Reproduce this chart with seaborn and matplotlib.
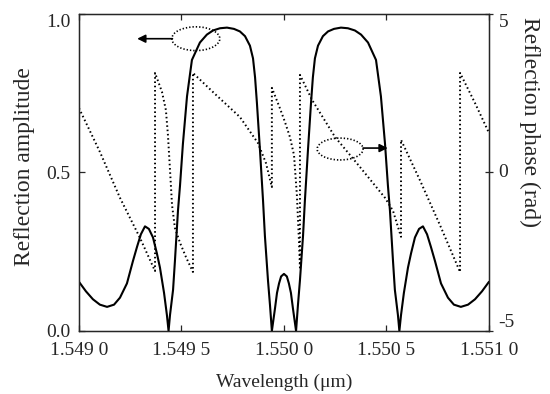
import matplotlib
matplotlib.use("Agg")
import matplotlib.pyplot as plt
from matplotlib.patches import Ellipse
import pandas as pd
import seaborn as sns

# wavelength (um) and reflection amplitude
amp_wl = [1.549000, 1.549034, 1.549068, 1.549102, 1.549137, 1.549171, 1.549200, 1.549234,
          1.549263, 1.549283, 1.549302, 1.549322, 1.549341, 1.549361, 1.549380, 1.549395,
          1.549415, 1.549429, 1.549437, 1.549444, 1.549459, 1.549468, 1.549483, 1.549493,
          1.549507, 1.549527, 1.549551, 1.549590, 1.549624, 1.549654, 1.549688, 1.549722,
          1.549756, 1.549785, 1.549810, 1.549834, 1.549849, 1.549859, 1.549868, 1.549883,
          1.549898, 1.549907, 1.549922, 1.549932, 1.549941, 1.549956, 1.549966, 1.549976,
          1.549986, 1.550000, 1.550014, 1.550024, 1.550034, 1.550044, 1.550059, 1.550068,
          1.550078, 1.550093, 1.550102, 1.550117, 1.550132, 1.550141, 1.550151, 1.550166,
          1.550190, 1.550215, 1.550244, 1.550278, 1.550312, 1.550346, 1.550376, 1.550410,
          1.550449, 1.550473, 1.550493, 1.550507, 1.550517, 1.550532, 1.550541, 1.550556,
          1.550563, 1.550571, 1.550585, 1.550605, 1.550620, 1.550639, 1.550659, 1.550678,
          1.550698, 1.550717, 1.550737, 1.550766, 1.550800, 1.550829, 1.550863, 1.550898,
          1.550932, 1.550966, 1.551000]
amplitude = [0.155, 0.125, 0.100, 0.083, 0.076, 0.083, 0.105, 0.150,
             0.220, 0.265, 0.305, 0.330, 0.322, 0.295, 0.245, 0.200,
             0.120, 0.050, 0.000, 0.050, 0.130, 0.220, 0.380, 0.460,
             0.590, 0.740, 0.855, 0.910, 0.935, 0.948, 0.955, 0.957,
             0.953, 0.945, 0.930, 0.900, 0.860, 0.800, 0.720, 0.570,
             0.410, 0.300, 0.160, 0.080, 0.000, 0.070, 0.120, 0.150,
             0.172, 0.180, 0.172, 0.150, 0.120, 0.070, 0.000, 0.080,
             0.160, 0.300, 0.410, 0.570, 0.720, 0.800, 0.860, 0.900,
             0.930, 0.945, 0.953, 0.957, 0.955, 0.948, 0.935, 0.910,
             0.855, 0.740, 0.590, 0.460, 0.380, 0.220, 0.130, 0.050,
             0.000, 0.050, 0.120, 0.200, 0.245, 0.295, 0.322, 0.330,
             0.305, 0.265, 0.220, 0.150, 0.105, 0.083, 0.076, 0.083,
             0.100, 0.125, 0.155]

# wavelength (um) and reflection phase (rad); repeated wavelengths are the phase jumps
phase_wl = [1.549000, 1.549102, 1.549200, 1.549298, 1.549371, 1.549371, 1.549405, 1.549424,
            1.549434, 1.549444, 1.549454, 1.549468, 1.549493, 1.549522, 1.549556, 1.549556,
            1.549663, 1.549785, 1.549873, 1.549912, 1.549941, 1.549941, 1.549980, 1.550005,
            1.550029, 1.550049, 1.550063, 1.550073, 1.550078, 1.550078, 1.550137, 1.550249,
            1.550371, 1.550493, 1.550532, 1.550571, 1.550571, 1.550663, 1.550761, 1.550859,
            1.550859, 1.550932, 1.551000]
phase = [2.03, 0.65, -0.80, -2.07, -3.11, 3.14, 2.54, 1.97,
         1.18, 0.08, -1.03, -1.75, -2.22, -2.67, -3.14, 3.14,
         2.48, 1.75, 0.93, 0.30, -0.46, 2.67, 2.03, 1.59,
         1.12, 0.55, -0.71, -2.13, -3.00, 3.08, 2.29, 1.12,
         0.17, -0.80, -1.21, -2.03, 1.03, -0.24, -1.66, -3.14,
         3.14, 2.19, 1.25]

x_ticks = [1.5490, 1.5495, 1.5500, 1.5505, 1.5510]
x_labels = ["1.549 0", "1.549 5", "1.550 0", "1.550 5", "1.551 0"]
amp_ticks = [0.0, 0.5, 1.0]
amp_labels = ["0.0", "0.5", "1.0"]
phase_ticks = [-5, 0, 5]
phase_labels = ["-5", "0", "5"]

amp_df = pd.DataFrame({"wl": amp_wl, "amp": amplitude})
phase_df = pd.DataFrame({"wl": phase_wl, "phase": phase})

sns.set_style("ticks")
plt.rcParams["font.family"] = ["Liberation Serif", "DejaVu Serif"]
plt.rcParams["axes.linewidth"] = 0.9

fig = plt.figure(figsize=(5.5, 3.94), dpi=100)
ax = fig.add_axes([0.1436, 0.160, 0.889 - 0.1436, 0.9645 - 0.160])
ax2 = ax.twinx()

sns.lineplot(data=amp_df, x="wl", y="amp", ax=ax, sort=False, estimator=None,
             color="black", linewidth=1.5)
sns.lineplot(data=phase_df, x="wl", y="phase", ax=ax2, sort=False, estimator=None,
             color="black", linewidth=1.4, linestyle=(0, (0.8, 1.4)))

ax.set_xlim(1.5490, 1.5510)
ax.set_ylim(0, 1.0)
ax2.set_ylim(-5, 5)

ax.set_xticks(x_ticks)
ax.set_xticklabels(x_labels)
ax.set_yticks(amp_ticks)
ax.set_yticklabels(amp_labels)
ax2.set_yticks(phase_ticks)
ax2.set_yticklabels(phase_labels)

ax.tick_params(axis="both", direction="in", length=4, width=0.9, labelsize=14, top=True)
ax.tick_params(axis="x", pad=8)
ax.tick_params(axis="y", pad=6)
ax2.tick_params(axis="y", direction="inout", length=6, width=0.9, labelsize=14, pad=4)
# end tick labels sit inside the span, as in the original
for lab, va in zip(ax2.get_yticklabels(), ["bottom", "center", "top"]):
    lab.set_verticalalignment(va)
ax.get_yticklabels()[-1].set_verticalalignment("top")

ax.set_xlabel("Wavelength (μm)", fontsize=14)
ax.set_ylabel("Reflection amplitude", fontsize=17, va="center")
ax2.set_ylabel("Reflection phase (rad)", fontsize=17, rotation=270, va="center")
ax.xaxis.set_label_coords(0.5, -0.135)
ax.yaxis.set_label_coords(-0.134, 0.52)
ax2.yaxis.set_label_coords(1.1, 0.66)

for s in ax.spines.values():
    s.set_color("black")

# dotted ellipses with arrows pointing to the matching axis
ax.add_patch(Ellipse((0.285, 0.922), 0.117, 0.075, transform=ax.transAxes, fill=False,
                     edgecolor="black", linewidth=1.2, linestyle=(0, (0.8, 1.2)), zorder=5))
ax.annotate("", xy=(0.142, 0.922), xytext=(0.228, 0.922), xycoords="axes fraction",
            arrowprops=dict(arrowstyle="-|>", color="black", lw=1.2, mutation_scale=12,
                            shrinkA=0, shrinkB=0))
ax.add_patch(Ellipse((0.637, 0.574), 0.112, 0.069, transform=ax.transAxes, fill=False,
                     edgecolor="black", linewidth=1.2, linestyle=(0, (0.8, 1.2)), zorder=5))
ax.annotate("", xy=(0.753, 0.577), xytext=(0.693, 0.577), xycoords="axes fraction",
            arrowprops=dict(arrowstyle="-|>", color="black", lw=1.2, mutation_scale=12,
                            shrinkA=0, shrinkB=0))

fig.savefig("out.png", dpi=100)
